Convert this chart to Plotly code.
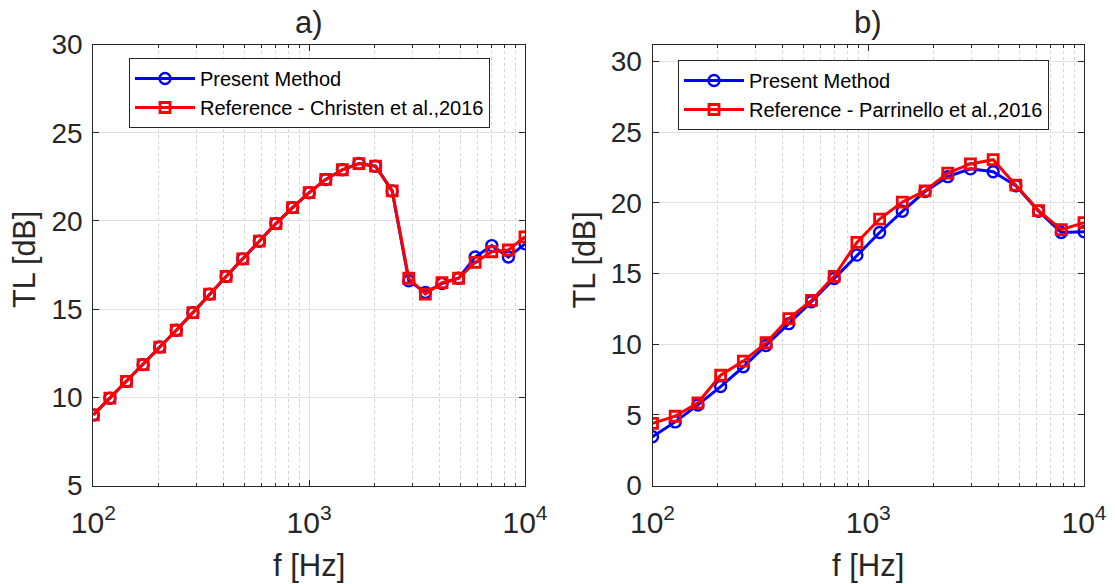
import plotly.graph_objects as go

# ---------------- data ----------------
freq_a = [100, 119.4, 142.5, 170.1, 203.1, 242.4, 289.4, 345.5, 412.5, 492.4,
          587.8, 701.7, 837.7, 1000, 1193.8, 1425.1, 1701.3, 2030.9, 2424.5,
          2894.3, 3455.1, 4124.6, 4923.9, 5878.0, 7017.0, 8376.8, 10000]
present_a = [9.0, 9.95, 10.9, 11.85, 12.85, 13.8, 14.8, 15.85, 16.85, 17.85,
             18.85, 19.85, 20.75, 21.6, 22.35, 22.9, 23.25, 23.1, 21.7,
             16.6, 15.95, 16.45, 16.75, 17.95, 18.6, 17.95, 18.7]
ref_a = [9.0, 9.95, 10.9, 11.85, 12.85, 13.8, 14.8, 15.85, 16.85, 17.85,
         18.85, 19.85, 20.75, 21.6, 22.35, 22.9, 23.25, 23.1, 21.7,
         16.75, 15.85, 16.5, 16.75, 17.65, 18.25, 18.35, 19.1]

freq_b = [100, 127.4, 162.4, 206.9, 263.7, 336.0, 428.1, 545.6, 695.2, 885.9,
          1128.8, 1438.4, 1833.0, 2335.7, 2976.4, 3792.7, 4832.9, 6158.5,
          7847.6, 10000]
present_b = [3.45, 4.5, 5.7, 7.0, 8.4, 9.9, 11.45, 13.0, 14.65, 16.3,
             17.9, 19.4, 20.8, 21.85, 22.4, 22.2, 21.2, 19.4, 17.9, 17.95]
ref_b = [4.4, 4.9, 5.85, 7.8, 8.8, 10.1, 11.8, 13.1, 14.8, 17.2,
         18.85, 20.05, 20.85, 22.1, 22.75, 23.05, 21.25, 19.45, 18.1, 18.6]

x_tickvals = [100, 1000, 10000]
x_ticktext = ["10<sup>2</sup>", "10<sup>3</sup>", "10<sup>4</sup>"]
x_minor = [200, 300, 400, 500, 600, 700, 800, 900,
           2000, 3000, 4000, 5000, 6000, 7000, 8000, 9000]
ya_ticks = [5, 10, 15, 20, 25, 30]
yb_ticks = [0, 5, 10, 15, 20, 25, 30]

FONT = "Liberation Sans, Arial, Helvetica, sans-serif"
AX = "#262626"
BLUE = "#0000FF"
RED = "#FF0000"

fig = go.Figure()


def add_pair(x, yb, yr, xa, ya, leg, ref_name):
    fig.add_trace(go.Scatter(
        x=x, y=yb, mode="lines+markers", name="Present Method",
        line=dict(color=BLUE, width=3),
        marker=dict(symbol="circle-open", size=11, color=BLUE,
                    line=dict(width=2.4, color=BLUE)),
        xaxis=xa, yaxis=ya, legend=leg))
    fig.add_trace(go.Scatter(
        x=x, y=yr, mode="lines+markers", name=ref_name,
        line=dict(color=RED, width=3),
        marker=dict(symbol="square-open", size=10, color=RED,
                    line=dict(width=2.8, color=RED)),
        xaxis=xa, yaxis=ya, legend=leg))


add_pair(freq_a, present_a, ref_a, "x", "y", "legend",
         "Reference - Christen et al.,2016")
add_pair(freq_b, present_b, ref_b, "x2", "y2", "legend2",
         "Reference - Parrinello et al.,2016")

W, H = 1115, 584


def px(x):
    return x / W


def py(y):
    return 1 - y / H


ydom = [py(485.5), py(44.5)]

xcommon = dict(
    type="log", range=[2, 4], tickvals=x_tickvals, ticktext=x_ticktext,
    ticks="inside", ticklen=6, tickcolor=AX, tickwidth=1,
    showline=True, linecolor=AX, linewidth=1, mirror="allticks",
    showgrid=True, gridcolor="#e2e2e2", gridwidth=1, zeroline=False,
    automargin=False, ticklabelstandoff=10,
    tickfont=dict(size=30, color=AX, family=FONT),
    minor=dict(tickvals=x_minor, ticks="inside", ticklen=3, tickcolor=AX,
               showgrid=True, gridcolor="#d4d4d4", griddash="dot",
               gridwidth=1),
)
ycommon = dict(
    ticks="inside", ticklen=6, tickcolor=AX, tickwidth=1,
    showline=True, linecolor=AX, linewidth=1, mirror="allticks",
    showgrid=True, gridcolor="#e2e2e2", gridwidth=1, zeroline=False,
    automargin=False, ticklabelstandoff=4,
    tickfont=dict(size=28, color=AX, family=FONT),
)

legcommon = dict(
    xanchor="left", yanchor="top", bgcolor="white",
    bordercolor=AX, borderwidth=1,
    font=dict(size=20, color="black", family=FONT),
    tracegroupgap=0, itemwidth=60,
)

fig.update_layout(
    width=W, height=H,
    margin=dict(l=0, r=0, t=0, b=0, autoexpand=False),
    paper_bgcolor="white", plot_bgcolor="white",
    font=dict(family=FONT, color=AX),
    showlegend=True,
    xaxis=dict(domain=[px(93.3), px(525)], anchor="y", **xcommon),
    yaxis=dict(domain=ydom, anchor="x", range=[5, 30], tickvals=ya_ticks,
               **ycommon),
    xaxis2=dict(domain=[px(652.5), px(1084)], anchor="y2", **xcommon),
    yaxis2=dict(domain=ydom, anchor="x2", range=[0, 31.2], tickvals=yb_ticks,
                **ycommon),
    legend=dict(x=px(129), y=py(58), **legcommon),
    legend2=dict(x=px(678), y=py(60), **legcommon),
)

annots = [
    dict(text="a)", x=px(309), y=py(23)),
    dict(text="b)", x=px(868.3), y=py(23)),
    dict(text="f [Hz]", x=px(309), y=py(565)),
    dict(text="f [Hz]", x=px(868.3), y=py(565)),
]
for a in annots:
    fig.add_annotation(xref="paper", yref="paper", showarrow=False,
                       xanchor="center", yanchor="middle",
                       font=dict(size=31, color=AX, family=FONT), **a)
for xp in (24, 583.5):
    fig.add_annotation(xref="paper", yref="paper", showarrow=False,
                       text="TL [dB]", textangle=-90, x=px(xp),
                       y=py(260), xanchor="center", yanchor="middle",
                       font=dict(size=30.5, color=AX, family=FONT))

# remove the default page margin so the figure fills the window exactly
fig.write_html("out.html",
               config={"displayModeBar": False},
               post_script="document.body.style.margin='0';"
                           "document.body.style.overflow='hidden';")
